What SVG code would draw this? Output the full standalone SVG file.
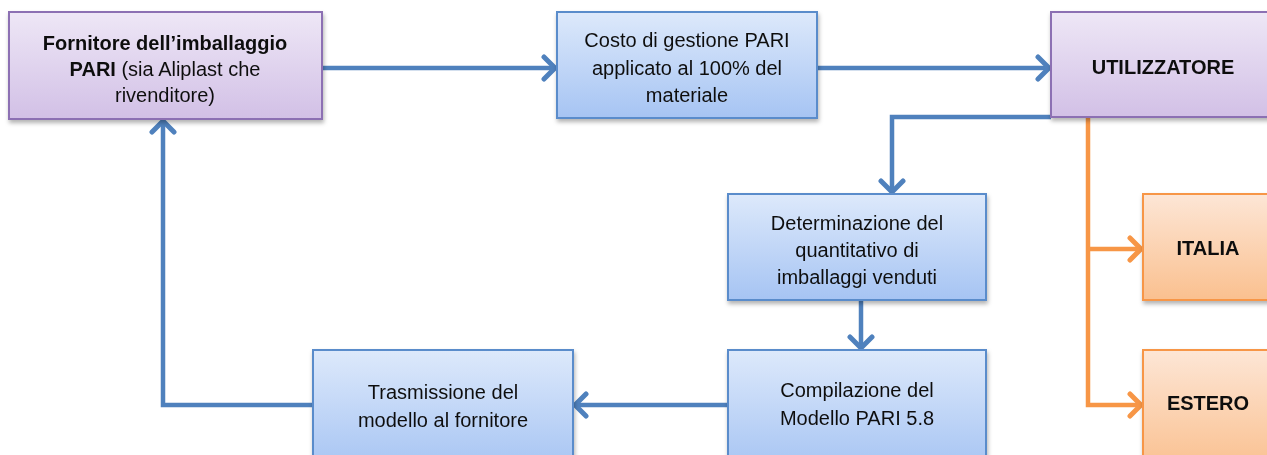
<svg xmlns="http://www.w3.org/2000/svg" width="1267" height="455" viewBox="0 0 1267 455">
<style>
.t{font-family:"Liberation Sans",Arial,sans-serif;font-size:20px;fill:#111;text-anchor:middle}
.b{font-weight:bold}
.purple{fill:url(#gp);stroke:#8c6fb3;stroke-width:2}
.blue{fill:url(#gb);stroke:#5a8ccb;stroke-width:2}
.orange{fill:url(#go);stroke:#f79646;stroke-width:2}
.cb{fill:none;stroke:#4f81bd;stroke-width:4.5}
.co{fill:none;stroke:#f79646;stroke-width:4.5}
</style>
<defs>
<linearGradient id="gp" x1="0" y1="0" x2="0" y2="1"><stop offset="0" stop-color="#eee7f6"/><stop offset="1" stop-color="#d2c0e6"/></linearGradient>
<linearGradient id="gb" x1="0" y1="0" x2="0" y2="1"><stop offset="0" stop-color="#dde9fb"/><stop offset="1" stop-color="#a6c4f3"/></linearGradient>
<linearGradient id="go" x1="0" y1="0" x2="0" y2="1"><stop offset="0" stop-color="#fde6d6"/><stop offset="1" stop-color="#fac08f"/></linearGradient>
<filter id="sh" x="-10%" y="-10%" width="130%" height="140%"><feDropShadow dx="1" dy="3" stdDeviation="2" flood-color="#000" flood-opacity="0.3"/></filter>
<marker id="ab" viewBox="0 0 16 28" markerWidth="16" markerHeight="28" refX="14" refY="14" orient="auto" markerUnits="userSpaceOnUse"><path d="M3,3 L14,14 L3,25" fill="none" stroke="#4f81bd" stroke-width="5" stroke-linecap="round" stroke-linejoin="round"/></marker>
<marker id="ao" viewBox="0 0 16 28" markerWidth="16" markerHeight="28" refX="14" refY="14" orient="auto" markerUnits="userSpaceOnUse"><path d="M3,3 L14,14 L3,25" fill="none" stroke="#f79646" stroke-width="5" stroke-linecap="round" stroke-linejoin="round"/></marker>
</defs>
<g id="connectors">
<path class="cb" d="M322,68 H555" marker-end="url(#ab)"/>
<path class="cb" d="M817,68 H1049" marker-end="url(#ab)"/>
<path class="cb" d="M1051,117 H892 V192" marker-end="url(#ab)"/>
<path class="cb" d="M861,300 V348" marker-end="url(#ab)"/>
<path class="cb" d="M728,405 H575" marker-end="url(#ab)"/>
<path class="cb" d="M313,405 H163 V121" marker-end="url(#ab)"/>
<path class="co" d="M1088,118 V405 H1141" marker-end="url(#ao)"/>
<path class="co" d="M1088,249 H1141" marker-end="url(#ao)"/>
</g>
<g id="fornitore" filter="url(#sh)"><rect class="purple" x="9" y="12" width="313" height="107"/>
<text class="t"><tspan class="b" x="165" y="50">Fornitore dell’imballaggio</tspan><tspan x="165" y="76"><tspan class="b">PARI</tspan> (sia Aliplast che</tspan><tspan x="165" y="102">rivenditore)</tspan></text></g>
<g id="costo" filter="url(#sh)"><rect class="blue" x="557" y="12" width="260" height="106"/>
<text class="t"><tspan x="687" y="47">Costo di gestione PARI</tspan><tspan x="687" y="75">applicato al 100% del</tspan><tspan x="687" y="102">materiale</tspan></text></g>
<g id="utilizzatore" filter="url(#sh)"><rect class="purple" x="1051" y="12" width="230" height="105"/>
<text class="t b" x="1163" y="74">UTILIZZATORE</text></g>
<g id="determinazione" filter="url(#sh)"><rect class="blue" x="728" y="194" width="258" height="106"/>
<text class="t"><tspan x="857" y="230">Determinazione del</tspan><tspan x="857" y="257">quantitativo di</tspan><tspan x="857" y="284">imballaggi venduti</tspan></text></g>
<g id="italia" filter="url(#sh)"><rect class="orange" x="1143" y="194" width="140" height="106"/>
<text class="t b" x="1208" y="255">ITALIA</text></g>
<g id="estero" filter="url(#sh)"><rect class="orange" x="1143" y="350" width="140" height="120"/>
<text class="t b" x="1208" y="410">ESTERO</text></g>
<g id="trasmissione" filter="url(#sh)"><rect class="blue" x="313" y="350" width="260" height="120"/>
<text class="t"><tspan x="443" y="399">Trasmissione del</tspan><tspan x="443" y="427">modello al fornitore</tspan></text></g>
<g id="compilazione" filter="url(#sh)"><rect class="blue" x="728" y="350" width="258" height="120"/>
<text class="t"><tspan x="857" y="397">Compilazione del</tspan><tspan x="857" y="425">Modello PARI 5.8</tspan></text></g>
</svg>
